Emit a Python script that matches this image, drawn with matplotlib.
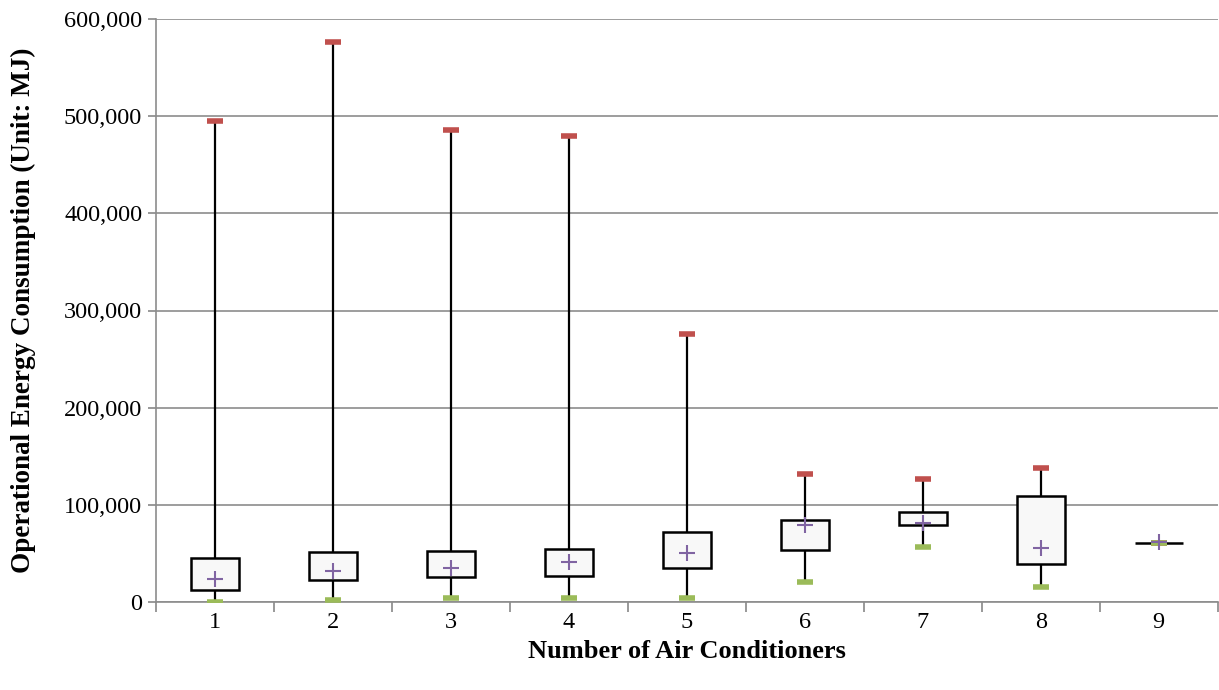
import numpy as np
import matplotlib.pyplot as plt
from matplotlib.ticker import FuncFormatter, FixedLocator

plt.rcParams['font.family'] = ['Liberation Serif', 'DejaVu Serif']

# number of air conditioners
categories = [1, 2, 3, 4, 5, 6, 7, 8, 9]

# box statistics (MJ)
max_vals = [495000, 576000, 486000, 480000, 276000, 132000, 127000, 138000, 60500]
q3_vals = [45000, 51800, 52500, 54500, 71700, 84400, 92300, 109400, 60500]
q1_vals = [12300, 22600, 25400, 27100, 35300, 53800, 79600, 38800, 60500]
min_vals = [500, 2000, 3800, 3800, 3800, 20900, 56300, 15800, 60500]
mean_vals = [23700, 32200, 35300, 41500, 50700, 79200, 81600, 55900, 61500]

fig = plt.figure(figsize=(12.19, 6.9), dpi=100)
ax = fig.add_axes([0.128, 0.1275, 0.871, 0.845])

x = np.array(categories)
q1 = np.array(q1_vals)
q3 = np.array(q3_vals)

# whiskers
ax.vlines(x, min_vals, max_vals, color='black', linewidth=1.6, zorder=2)

# boxes
ax.bar(x, q3 - q1, bottom=q1, width=0.41, color='#f8f8f8',
       edgecolor='black', linewidth=1.8, zorder=3)

# max / min caps
ax.plot(x, max_vals, linestyle='none', marker='_', markersize=11,
        markeredgewidth=4, color='#c0504d', zorder=4)
ax.plot(x, min_vals, linestyle='none', marker='_', markersize=11,
        markeredgewidth=4, color='#9bbb59', zorder=4)

# mean
ax.plot(x, mean_vals, linestyle='none', marker='+', markersize=11,
        markeredgewidth=1.5, color='#8064a2', zorder=5)

ax.set_xlim(0.5, 9.5)
ax.set_ylim(0, 600000)
ax.set_yticks(np.arange(0, 600001, 100000))
ax.yaxis.set_major_formatter(FuncFormatter(lambda v, p: f"{int(v):,}"))

ax.set_xticks(x)
ax.set_xticklabels([str(c) for c in categories])
ax.xaxis.set_minor_locator(FixedLocator(np.arange(0.5, 9.6, 1.0)))
ax.tick_params(axis='x', which='major', length=0, pad=7, labelsize=17.5)
ax.tick_params(axis='x', which='minor', length=7, width=1.2, color='#888888')
ax.tick_params(axis='y', length=6, width=1.2, color='#888888', labelsize=17.5, pad=4)

ax.grid(axis='y', color='#8c8c8c', linewidth=1.2, zorder=0)
ax.set_axisbelow(True)
for s in ['top', 'right']:
    ax.spines[s].set_visible(False)
for s in ['left', 'bottom']:
    ax.spines[s].set_color('#8c8c8c')
    ax.spines[s].set_linewidth(1.2)

ax.set_xlabel("Number of Air Conditioners", fontsize=19, fontweight='bold', labelpad=5)
ax.set_ylabel("Operational Energy Consumption (Unit: MJ)", fontsize=19.5,
              fontweight='bold', labelpad=20)

plt.savefig("out.png", dpi=100)
